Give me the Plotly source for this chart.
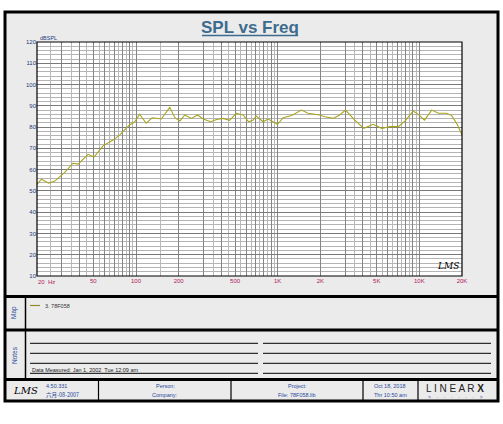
import plotly.graph_objects as go

# ---------------- data ----------------
freq_hz = [20, 21.5, 24.2, 26.7, 31.4, 35.9, 39, 45.9, 50.5, 58.5, 68.8, 76.8, 90, 98, 106,
           118, 130, 139, 151, 173, 188, 204, 221, 246, 272, 298, 337, 370, 412, 458, 510,
           570, 624, 672, 706, 788, 856, 998, 1092, 1254, 1472, 1638, 1978, 2150, 2460, 2740,
           3012, 3500, 4060, 4720, 5420, 6200, 7100, 7940, 9040, 9820, 10860, 12220, 13640,
           15600, 16940, 18600, 20000]
spl_db = [53.1, 55.5, 53.6, 54.6, 58.7, 63.0, 62.6, 67.2, 65.9, 71.2, 73.9, 76.3, 81.0, 82.5, 86.1,
          81.8, 84.4, 84.1, 83.8, 89.3, 84.4, 82.9, 85.7, 84.1, 85.7, 83.8, 82.5, 83.6, 84.1, 83.2, 86.5,
          85.7, 82.5, 83.3, 85.2, 82.5, 83.8, 81.3, 84.4, 85.4, 88.0, 86.5, 85.7, 84.9, 84.1, 85.7,
          88.0, 83.3, 79.4, 81.3, 79.4, 80.2, 80.2, 82.9, 87.6, 86.0, 83.3, 88.0, 86.5,
          86.5, 85.4, 81.0, 76.3]
series_name = "3. 78F058"

x_major_vals = [20, 30, 40, 50, 60, 70, 80, 90, 100, 200, 300, 400, 500, 600, 700, 800, 900,
                1000, 2000, 3000, 4000, 5000, 6000, 7000, 8000, 9000, 10000, 20000]
x_label_map = {50: "50", 100: "100", 200: "200", 500: "500", 1000: "1K", 2000: "2K",
               5000: "5K", 10000: "10K", 20000: "20K"}
x_minor_vals = [25, 35, 45, 55, 65, 75, 85, 95, 150, 350, 450, 550, 650, 750, 850, 950,
                3500, 4500, 5500, 6500, 7500, 8500, 9500]
y_tick_vals = [10, 20, 30, 40, 50, 60, 70, 80, 90, 100, 110, 120]

title_text = "SPL vs Freq"
y_unit = "dBSPL"
notes_text = "Data Measured: Jan 1, 2002  Tue 12:09 am"
footer_version = ["4.50.331", "六月-08-2007"]
footer_person = ["Person:", "Company:"]
footer_project = ["Project:", "File: 78F058.lib"]
footer_date = ["Oct 18, 2018", "Thr 10:50 am"]

# ---------------- geometry helpers (pixel -> paper) ----------------
W, H = 503, 424
L, R, T, B = 37, 462, 42, 276


def X(px):
    return (px - L) / (R - L)


def Y(py):
    return (B - py) / (B - T)


FONT = "Liberation Sans"
BLUE = "#2a4a9c"
LINE_COL = "#a8a51e"

fig = go.Figure()
fig.add_trace(go.Scatter(x=freq_hz, y=spl_db, mode="lines", name=series_name,
                         line=dict(color=LINE_COL, width=1.1), showlegend=False))

shapes = []
# panel background & frame
shapes.append(dict(type="rect", xref="paper", yref="paper", x0=X(5), x1=X(498), y0=Y(401), y1=Y(12),
                   fillcolor="#ebebeb", line=dict(color="black", width=3), layer="below"))
shapes.append(dict(type="rect", xref="paper", yref="paper", x0=0, x1=1, y0=0, y1=1,
                   fillcolor="white", line=dict(width=0), layer="below"))
# plot border
shapes.append(dict(type="rect", xref="paper", yref="paper", x0=0, x1=1, y0=0, y1=1,
                   line=dict(color="black", width=1.2), layer="above"))
# section separators
for py in [296.5, 330, 379.5]:
    shapes.append(dict(type="line", xref="paper", yref="paper", x0=X(5), x1=X(498), y0=Y(py), y1=Y(py),
                       line=dict(color="black", width=3)))
shapes.append(dict(type="line", xref="paper", yref="paper", x0=X(25.5), x1=X(25.5), y0=Y(296.5), y1=Y(379.5),
                   line=dict(color="black", width=1.5)))
for px in [98.5, 231, 363, 418]:
    shapes.append(dict(type="line", xref="paper", yref="paper", x0=X(px), x1=X(px), y0=Y(379.5), y1=Y(401),
                       line=dict(color="black", width=1.2)))
# notes lines
for py in [343.3, 353.3, 363.3, 373.3]:
    shapes.append(dict(type="line", xref="paper", yref="paper", x0=X(30), x1=X(258), y0=Y(py), y1=Y(py),
                       line=dict(color="black", width=1)))
    shapes.append(dict(type="line", xref="paper", yref="paper", x0=X(263), x1=X(491), y0=Y(py), y1=Y(py),
                       line=dict(color="black", width=1)))
# legend sample line in Map area
shapes.append(dict(type="line", xref="paper", yref="paper", x0=X(30), x1=X(40), y0=Y(305.5), y1=Y(305.5),
                   line=dict(color="#8c8a2c", width=1.2)))

ann = []


def txt(px, py, s, size=6, color=BLUE, xanchor="center", angle=0, family=FONT):
    ann.append(dict(x=X(px), y=Y(py), xref="paper", yref="paper", text=s, showarrow=False,
                    xanchor=xanchor, yanchor="middle", textangle=angle,
                    font=dict(family=family, size=size, color=color)))


txt(250, 27, "<b>" + title_text + "</b>", size=17, color="#3d6b8e")
shapes.append(dict(type="line", xref="paper", yref="paper", x0=X(202), x1=X(298), y0=Y(35.5), y1=Y(35.5),
                   line=dict(color="#3d6b8e", width=1.5)))
txt(38, 38, y_unit, size=5.5, color="#1b3b7b", xanchor="left")
txt(35.5, 281.5, "20  Hz", size=6, color="#b0185a", xanchor="left")
txt(448, 266, "<i>LMS</i>", size=9, color="black", family="DejaVu Serif")
txt(14, 313, "Map", size=6.5, angle=-90)
txt(14, 355, "Notes", size=6.5, angle=-90)
txt(43, 305.5, series_name, size=5.5, color="#333333", xanchor="left")
txt(30, 369.5, notes_text, size=5.5, color="#222222", xanchor="left")
txt(11, 390, "<i>LMS</i>", size=10, color="black", xanchor="left", family="DejaVu Serif")
txt(44, 386, footer_version[0], size=5.5, xanchor="left")
txt(44, 395, footer_version[1], size=5.5, xanchor="left", family="Noto Sans CJK SC")
txt(165, 386, footer_person[0], size=5.5)
txt(165, 395, footer_person[1], size=5.5)
txt(297, 386, footer_project[0], size=5.5)
txt(297, 395, footer_project[1], size=5.5)
txt(390, 386, footer_date[0], size=5.5)
txt(390, 395, footer_date[1], size=5.5)
txt(455, 388, "L I N E A R <b>X</b>", size=10, color="#222222")
txt(455, 397, ">    ·    ·    ·    ·    ·    ·    >", size=5, color="#2a4a9c")

fig.update_layout(
    width=W, height=H,
    margin=dict(l=L, r=W - R, t=T, b=H - B, pad=0),
    paper_bgcolor="white", plot_bgcolor="white",
    shapes=shapes, annotations=ann, showlegend=False,
    font=dict(family=FONT),
)
fig.update_xaxes(
    type="log", range=[1.30103, 4.30103],
    tickmode="array", tickvals=x_major_vals,
    ticktext=[x_label_map.get(v, "") for v in x_major_vals],
    ticks="", showgrid=True, gridcolor="#858585", gridwidth=1,
    tickfont=dict(size=6, color="#b0185a", family=FONT),
    minor=dict(tickmode="array", tickvals=x_minor_vals, showgrid=True, gridcolor="#b8b8b8", gridwidth=1),
    zeroline=False, showline=False, fixedrange=True,
)
fig.update_yaxes(
    range=[10, 120], tickmode="array", tickvals=y_tick_vals,
    ticks="", showgrid=True, gridcolor="#7a7a7a", gridwidth=1,
    tickfont=dict(size=6, color="#1b3b7b", family=FONT),
    minor=dict(dtick=2, showgrid=True, gridcolor="#b4b4b4", gridwidth=1),
    zeroline=False, showline=False, fixedrange=True,
)
fig.write_html("out.html", config={"displayModeBar": False},
               post_script="document.body.style.margin='0';document.body.style.overflow='hidden';")
